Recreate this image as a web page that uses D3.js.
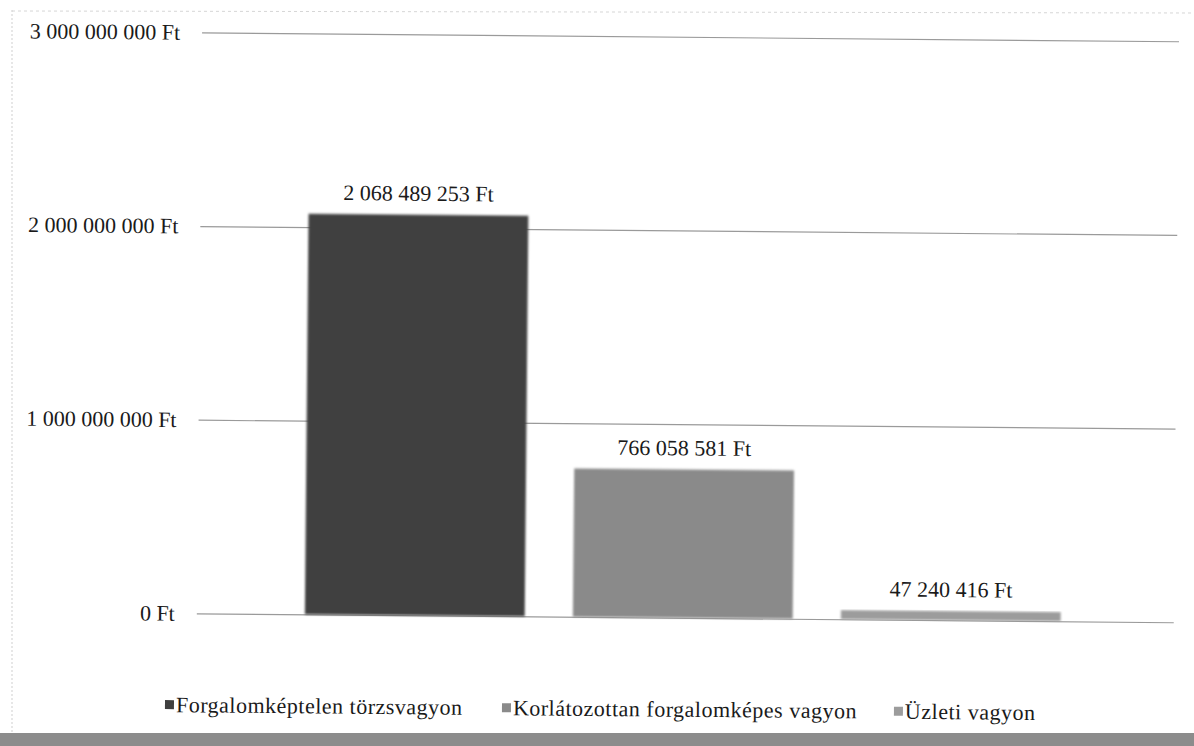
<!DOCTYPE html>
<html>
<head>
<meta charset="utf-8">
<script src="https://cdn.jsdelivr.net/npm/d3@7"></script>
<style>
  html, body { margin: 0; padding: 0; background: #fff; }
  svg { display: block; }
</style>
</head>
<body>
<svg id="chart" width="1194" height="746"></svg>
<script>
const categories = ["Forgalomképtelen törzsvagyon", "Korlátozottan forgalomképes vagyon", "Üzleti vagyon"];
const values = [2068489253, 766058581, 47240416];
const valueLabels = ["2 068 489 253 Ft", "766 058 581 Ft", "47 240 416 Ft"];
const tickValues = [0, 1000000000, 2000000000, 3000000000];
const tickLabels = ["0 Ft", "1 000 000 000 Ft", "2 000 000 000 Ft", "3 000 000 000 Ft"];
const colors = ["#3f3f3f", "#8a8a8a", "#9c9c9c"];

const FONT = "'Liberation Serif', Tinos, 'Times New Roman', Times, 'DejaVu Serif', serif";
const W = 1194, H = 746;
const svg = d3.select("#chart");

// frame (scanned page)
svg.append("line").attr("x1", 12).attr("x2", 12).attr("y1", 10).attr("y2", 735)
  .attr("stroke", "#cfcfcf").attr("stroke-width", 1).attr("stroke-dasharray", "2,2");
svg.append("line").attr("x1", 12).attr("x2", W).attr("y1", 11).attr("y2", 13)
  .attr("stroke", "#d6d6d6").attr("stroke-width", 1).attr("stroke-dasharray", "3,3");

const g = svg.append("g").attr("transform", "rotate(0.52, 597, 373)");

const y = d3.scaleLinear().domain([0, 3000000000]).range([617, 36]);
const x = d3.scaleBand().domain(categories).range([283, 1087]).paddingInner(0.18).paddingOuter(0.09);

// gridlines + tick labels via axis
const axis = d3.axisLeft(y).tickValues(tickValues)
  .tickFormat((d, i) => tickLabels[i]).tickSize(-977).tickPadding(22);
const ax = g.append("g").attr("transform", "translate(199,0)").call(axis)
  .attr("font-family", FONT);
ax.select(".domain").remove();
ax.selectAll(".tick line").attr("stroke", "#9a9a9a").attr("stroke-width", 1.2);
ax.selectAll(".tick text").attr("font-size", 22).attr("fill", "#1a1a1a")
  .attr("font-family", FONT);

// blur filter for scanned softness
const defs = svg.append("defs");
const f = defs.append("filter").attr("id", "soft").attr("x", "-5%").attr("y", "-5%").attr("width", "110%").attr("height", "110%");
f.append("feGaussianBlur").attr("stdDeviation", 0.9);

// bars
g.selectAll("rect.bar").data(values).join("rect")
  .attr("class", "bar")
  .attr("x", (d, i) => x(categories[i]))
  .attr("width", x.bandwidth())
  .attr("y", d => y(d))
  .attr("height", d => y(0) - y(d))
  .attr("fill", (d, i) => colors[i])
  .attr("filter", "url(#soft)");

// value labels
g.selectAll("text.val").data(values).join("text")
  .attr("class", "val")
  .attr("x", (d, i) => x(categories[i]) + x.bandwidth() / 2)
  .attr("y", d => y(d) - 14)
  .attr("text-anchor", "middle")
  .attr("font-size", 22)
  .attr("font-family", FONT)
  .attr("fill", "#1a1a1a")
  .text((d, i) => valueLabels[i]);

// legend
const legendX = [168, 505, 897];
const lg = g.append("g").attr("transform", "translate(0,709)");
const items = lg.selectAll("g.item").data(categories).join("g")
  .attr("class", "item")
  .attr("transform", (d, i) => `translate(${legendX[i]},0)`);
items.append("rect").attr("x", 0).attr("y", -5).attr("width", 9).attr("height", 9)
  .attr("fill", (d, i) => colors[i]);
items.append("text").attr("x", 11).attr("y", 7).attr("font-size", 22)
  .attr("letter-spacing", 0.5)
  .attr("font-family", FONT).attr("fill", "#1a1a1a").text(d => d);

// bottom gray band
svg.append("rect").attr("x", 0).attr("y", 733).attr("width", W).attr("height", 13).attr("fill", "#8c8c8c");
</script>
</body>
</html>
